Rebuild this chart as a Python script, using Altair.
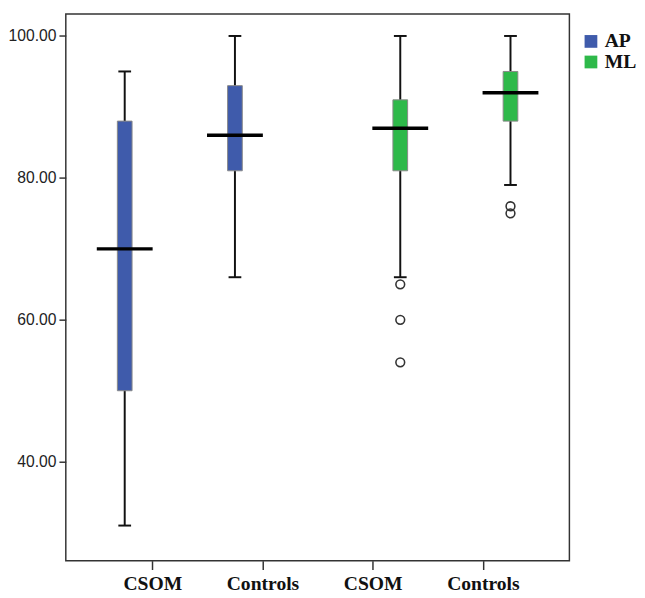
import pandas as pd
import altair as alt

# box summaries (AP = blue, ML = green)
groups = ["AP", "AP", "ML", "ML"]
slots = [1, 2, 3, 4]              # tick slot: CSOM, Controls, CSOM, Controls
shift = [-0.25, -0.25, 0.25, 0.25]  # SPSS draws the boxes beside the tick
lo = [31, 66, 66, 79]
q1 = [50, 81, 81, 88]
med = [70, 86, 87, 92]
q3 = [88, 93, 91, 95]
hi = [95, 100, 100, 100]

out_slot = [3, 3, 3, 4, 4]
out_shift = [0.25, 0.25, 0.25, 0.25, 0.25]
out_val = [65, 60, 54, 76, 75]

tick_names = ["CSOM", "Controls", "CSOM", "Controls"]

boxes = pd.DataFrame({
    "group": groups,
    "pos": [s + d for s, d in zip(slots, shift)],
    "lo": lo, "q1": q1, "med": med, "q3": q3, "hi": hi,
})
outs = pd.DataFrame({
    "pos": [s + d for s, d in zip(out_slot, out_shift)],
    "val": out_val,
})

label_expr = " : ".join(
    f"datum.value == {i + 1} ? '{n}'" for i, n in enumerate(tick_names)
) + " : ''"

x = alt.X("pos:Q", title=None,
          scale=alt.Scale(domain=[0.26, 4.74], nice=False, zero=False),
          axis=alt.Axis(values=[1, 2, 3, 4], labelExpr=label_expr, grid=False,
                        domain=False, tickSize=9, tickColor="#333", tickWidth=1.5,
                        labelFont="Liberation Serif", labelFontWeight="bold",
                        labelFontSize=20, labelColor="#111", labelPadding=4))
y_scale = alt.Scale(domain=[26.05, 103.1], nice=False, zero=False)
y_axis = alt.Axis(values=[40, 60, 80, 100], format=".2f", grid=False, domain=False,
                  tickSize=7, tickColor="#333", tickWidth=1.5,
                  labelFont="Liberation Sans", labelFontSize=16,
                  labelColor="#222", labelPadding=3)

base = alt.Chart(boxes)

whisker = base.mark_rule(color="#111", strokeWidth=2).encode(
    x=x, y=alt.Y("lo:Q", scale=y_scale, axis=y_axis, title=None), y2="hi:Q")

cap_lo = base.mark_tick(orient="horizontal", size=13, thickness=2, color="#111",
                        opacity=1).encode(x="pos:Q", y="lo:Q")
cap_hi = base.mark_tick(orient="horizontal", size=13, thickness=2, color="#111",
                        opacity=1).encode(x="pos:Q", y="hi:Q")

box = base.mark_bar(size=15, stroke="#888", strokeWidth=1, opacity=1).encode(
    x="pos:Q", y="q1:Q", y2="q3:Q",
    color=alt.Color("group:N", title=None,
                    scale=alt.Scale(domain=["AP", "ML"], range=["#3F5BAB", "#2EB94A"]),
                    legend=alt.Legend(orient="none", legendX=526, legendY=18,
                                      symbolType="square", symbolSize=169,
                                      symbolStrokeWidth=0, symbolOpacity=1,
                                      labelFont="Liberation Serif", labelFontWeight="bold",
                                      labelFontSize=20, labelColor="#111",
                                      labelOffset=4, rowPadding=1, padding=0)))

median = base.mark_tick(orient="horizontal", size=57, thickness=3.5, color="#000",
                        opacity=1).encode(x="pos:Q", y="med:Q")

outliers = alt.Chart(outs).mark_point(shape="circle", filled=False, size=80,
                                      stroke="#333", strokeWidth=1.6, opacity=1).encode(
    x="pos:Q", y="val:Q")

chart = alt.layer(whisker, cap_lo, cap_hi, box, median, outliers).properties(
    width=514, height=558, background="white",
    padding={"left": 0, "top": 0, "right": 0, "bottom": 0}
).configure_view(stroke="#333", strokeWidth=1.5)

chart.save("out.html", embed_options={"renderer": "svg", "actions": False})
